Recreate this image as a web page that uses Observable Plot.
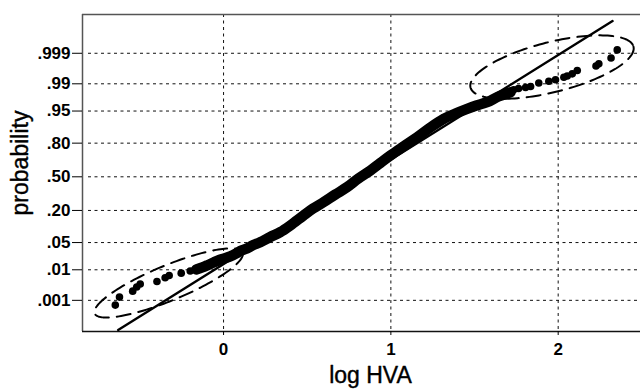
<!DOCTYPE html>
<html>
<head>
<meta charset="utf-8">
<script src="https://cdn.jsdelivr.net/npm/d3@7"></script>
<script src="https://cdn.jsdelivr.net/npm/@observablehq/plot@0.6"></script>
<style>
  html, body { margin: 0; padding: 0; background: #fff; }
  #chart { width: 640px; height: 389px; }
</style>
</head>
<body>
<div id="chart"></div>
<script>
// ---- Axis ticks ----
const xTicks = [0, 1, 2];
const probTicks = [0.001, 0.01, 0.05, 0.20, 0.50, 0.80, 0.95, 0.99, 0.999];
const probLabels = [".001", ".01", ".05", ".20", ".50", ".80", ".95", ".99", ".999"];

// ---- Observations (log HVA vs. normal score of plotting position) ----
// lower tail (separate dots)
const lowTailX = [-0.647, -0.622, -0.543, -0.519, -0.498, -0.398, -0.349, -0.325, -0.253, -0.199];
const lowTailZ = [-3.21, -3.01, -2.86, -2.755, -2.68, -2.62, -2.525, -2.47, -2.41, -2.355];
// dense central band
const bandX = [-0.163, -0.127, -0.092, -0.060, -0.032, 0.004, 0.040, 0.076, 0.106, 0.140, 0.172, 0.219,
  0.279, 0.339, 0.399, 0.478, 0.536, 0.598, 0.668, 0.738, 0.806, 0.878, 0.937, 0.997, 1.075, 1.157,
  1.236, 1.316, 1.386, 1.456, 1.511, 1.575, 1.643, 1.715];
const bandZ = [-2.318, -2.268, -2.205, -2.143, -2.093, -2.043, -1.993, -1.918, -1.843, -1.793, -1.718, -1.635,
  -1.505, -1.385, -1.218, -0.968, -0.793, -0.635, -0.443, -0.26, -0.043, 0.158, 0.345, 0.533, 0.758, 0.99,
  1.233, 1.45, 1.583, 1.70, 1.783, 1.865, 2.008, 2.115];
// upper tail (separate dots)
const highTailX = [1.734, 1.763, 1.805, 1.835, 1.884, 1.944, 1.984, 2.034, 2.054, 2.084, 2.114, 2.226, 2.243, 2.316, 2.353];
const highTailZ = [2.175, 2.208, 2.233, 2.258, 2.345, 2.39, 2.428, 2.49, 2.52, 2.575, 2.658, 2.77, 2.825, 2.97, 3.175];

// ---- Reference (normal) line end points ----
const refX = [-0.630, 2.325];
const refZ = [-3.83, 3.895];

// ---- Highlight ellipses: centre, half major axis vector, half minor axis vector (data units) ----
const ellCx = [-0.328, 1.963];
const ellCz = [-2.655, 2.745];
const ellUx = [0.442, 0.487];
const ellUz = [0.765, 0.512];
const ellVx = [0.040, 0.0365];
const ellVz = [-0.405, -0.606];

// ---- Scale extents ----
const xDomain = [-0.843, 2.492];
const zDomain = [-3.87, 4.06];

// inverse standard normal CDF (Acklam)
function probit(p) {
  const a = [-3.969683028665376e+01, 2.209460984245205e+02, -2.759285104469687e+02, 1.383577518672690e+02, -3.066479806614716e+01, 2.506628277459239e+00];
  const b = [-5.447609879822406e+01, 1.615858368580409e+02, -1.556989798598866e+02, 6.680131188771972e+01, -1.328068155288572e+01];
  const c = [-7.784894002430293e-03, -3.223964580411365e-01, -2.400758277161838e+00, -2.549732539343734e+00, 4.374664141464968e+00, 2.938163982698783e+00];
  const d = [7.784695709041462e-03, 3.224671290700398e-01, 2.445134137142996e+00, 3.754408661907416e+00];
  const pl = 0.02425, ph = 1 - pl;
  let q, r;
  if (p < pl) {
    q = Math.sqrt(-2 * Math.log(p));
    return (((((c[0]*q+c[1])*q+c[2])*q+c[3])*q+c[4])*q+c[5]) / ((((d[0]*q+d[1])*q+d[2])*q+d[3])*q+1);
  }
  if (p <= ph) {
    q = p - 0.5; r = q * q;
    return (((((a[0]*r+a[1])*r+a[2])*r+a[3])*r+a[4])*r+a[5])*q / (((((b[0]*r+b[1])*r+b[2])*r+b[3])*r+b[4])*r+1);
  }
  q = Math.sqrt(-2 * Math.log(1 - p));
  return -(((((c[0]*q+c[1])*q+c[2])*q+c[3])*q+c[4])*q+c[5]) / ((((d[0]*q+d[1])*q+d[2])*q+d[3])*q+1);
}

const zTicks = probTicks.map(probit);
const labelByZ = new Map(zTicks.map((z, i) => [z, probLabels[i]]));

const zip = (xs, zs) => xs.map((x, i) => ({x, z: zs[i]}));
const lowTail = zip(lowTailX, lowTailZ);
const band = zip(bandX, bandZ);
const highTail = zip(highTailX, highTailZ);
const refLine = zip(refX, refZ);

// ellipse outlines
const ellipses = [];
ellCx.forEach((cx, k) => {
  const n = 160;
  for (let i = 0; i <= n; i++) {
    const t = (i / n) * 2 * Math.PI;
    ellipses.push({
      id: k,
      x: cx + ellUx[k] * Math.cos(t) + ellVx[k] * Math.sin(t),
      z: ellCz[k] + ellUz[k] * Math.cos(t) + ellVz[k] * Math.sin(t)
    });
  }
});

const font = "'Liberation Sans', Arial, Helvetica, sans-serif";

const chart = Plot.plot({
  width: 640,
  height: 389,
  marginLeft: 82,
  marginRight: 0,
  marginTop: 14,
  marginBottom: 58,
  x: {domain: xDomain, axis: null},
  y: {domain: zDomain, axis: null},
  style: {fontFamily: font, background: "#fff", color: "#000", overflow: "visible"},
  marks: [
    Plot.gridY(zTicks, {stroke: "#111", strokeOpacity: 1, strokeWidth: 1, strokeDasharray: "3,3.5", inset: 0, insetLeft: 6}),
    Plot.gridX(xTicks, {stroke: "#111", strokeOpacity: 1, strokeWidth: 1, strokeDasharray: "3,3.5"}),
    Plot.ruleX([xDomain[0]], {stroke: "#555", strokeWidth: 1.5}),
    Plot.ruleY([zDomain[1]], {stroke: "#555", strokeWidth: 1.5}),
    Plot.ruleY([zDomain[0]], {stroke: "#111", strokeWidth: 1.5}),
    Plot.axisY({
      ticks: zTicks,
      tickFormat: d => labelByZ.get(d),
      tickSize: 10,
      tickPadding: 2,
      fontSize: 17,
      fontWeight: "bold",
      label: null
    }),
    Plot.axisX({
      ticks: xTicks,
      tickFormat: d => String(d),
      tickSize: 4,
      tickPadding: 7,
      fontSize: 17,
      fontWeight: "bold",
      label: null
    }),
    Plot.line(refLine, {x: "x", y: "z", stroke: "#000", strokeWidth: 2.4}),
    Plot.line(ellipses, {x: "x", y: "z", z: "id", stroke: "#000", strokeWidth: 2, strokeDasharray: "14,8"}),
    Plot.line(band, {x: "x", y: "z", stroke: "#000", strokeWidth: 10.5, strokeLinecap: "round", strokeLinejoin: "round", curve: "catmull-rom"}),
    Plot.dot(band, {x: "x", y: "z", r: 4.6, fill: "#000", stroke: null}),
    Plot.dot(lowTail, {x: "x", y: "z", r: 3.8, fill: "#000", stroke: null}),
    Plot.dot(highTail, {x: "x", y: "z", r: 3.8, fill: "#000", stroke: null}),
    Plot.text(["log HVA"], {frameAnchor: "bottom", textAnchor: "middle", dx: 9, dy: 44, fontSize: 23, lineAnchor: "middle", fill: "#000", stroke: "#000", strokeWidth: 0.4}),
    Plot.text(["probability"], {frameAnchor: "left", textAnchor: "middle", dx: -62, dy: -10, rotate: -90, fontSize: 23, lineAnchor: "middle", fill: "#000", stroke: "#000", strokeWidth: 0.4})
  ]
});

document.getElementById("chart").appendChild(chart);
</script>
</body>
</html>
